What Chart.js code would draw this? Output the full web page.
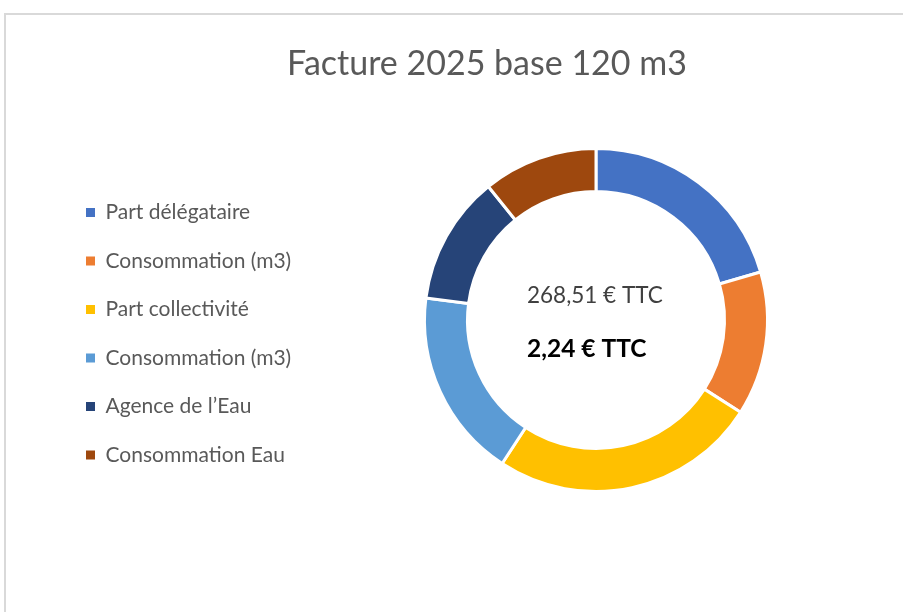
<!DOCTYPE html>
<html>
<head>
<meta charset="utf-8">
<script src="https://cdn.jsdelivr.net/npm/chart.js@4.4.1/dist/chart.umd.min.js"></script>
<style>
  html, body { margin: 0; padding: 0; width: 903px; height: 612px; overflow: hidden; background: #ffffff; }
  #frame { position: absolute; left: 4px; top: 13px; width: 2000px; height: 2000px;
           border-top: 2px solid #d9d9d9; border-left: 2px solid #d9d9d9; box-sizing: border-box; }
  #c { position: absolute; left: 0; top: 0; display: block; }
</style>
</head>
<body>
<div id="frame"></div>
<canvas id="c" width="920" height="612"></canvas>
<script>
const chartTitle = 'Facture 2025 base 120 m3';
const categories = ['Part délégataire', 'Consommation (m3)', 'Part collectivité', 'Consommation (m3)', 'Agence de l’Eau', 'Consommation Eau'];
const amounts = [55.0, 36.4, 67.6, 47.9, 32.6, 29.0];
const sliceColors = ['#4472C4', '#ED7D31', '#FFC000', '#5B9BD5', '#264478', '#9E480E'];
const totalText = '268,51 € TTC';
const perM3Text = '2,24 € TTC';

const FONT = 'Lato, "Open Sans", sans-serif';
const LEGEND_SIZE = 21;
const LEGEND_PAD = 27.5;
const LEGEND_BOX = 9;

// right-side spacer so that the title stays centred over the whole frame
const mctx = document.createElement('canvas').getContext('2d');
mctx.font = LEGEND_SIZE + 'px ' + FONT;
const longest = Math.max(...categories.map(t => mctx.measureText(t).width));
const legendWidth = LEGEND_PAD + LEGEND_BOX + LEGEND_SIZE / 2 + longest + 10;
const spacerWidth = Math.max(legendWidth - 218, 1);

const defaultLabels = Chart.overrides.doughnut.plugins.legend.labels.generateLabels;

const centerText = {
  id: 'centerText',
  afterDraw(chart) {
    const arc = chart.getDatasetMeta(0).data[0];
    if (!arc) return;
    const ctx = chart.ctx;
    const cx = arc.x, cy = arc.y;
    ctx.save();
    ctx.textAlign = 'left';
    ctx.textBaseline = 'alphabetic';
    ctx.fillStyle = '#404040';
    ctx.font = '22.5px ' + FONT;
    ctx.fillText(totalText, cx - 69, cy - 17.5);
    ctx.fillStyle = '#000000';
    ctx.font = 'bold 24.5px ' + FONT;
    ctx.fillText(perM3Text, cx - 69, cy + 37);
    ctx.restore();
  }
};

new Chart(document.getElementById('c'), {
  type: 'doughnut',
  data: {
    labels: categories,
    datasets: [{
      data: amounts,
      backgroundColor: sliceColors,
      borderColor: '#ffffff',
      borderWidth: 3,
      hoverOffset: 0
    }]
  },
  options: {
    responsive: false,
    animation: false,
    radius: 171.5,
    cutout: '74.93%',
    layout: { padding: { left: 58.5, right: 4.5, top: 0, bottom: 53.5 } },
    plugins: {
      tooltip: { enabled: false },
      title: {
        display: true,
        text: chartTitle,
        color: '#595959',
        font: { family: FONT, size: 34, weight: 'normal', lineHeight: 1 },
        padding: { top: 47.5, bottom: 0 }
      },
      subtitle: {
        display: true,
        position: 'right',
        text: '',
        font: { size: 1, lineHeight: 1 },
        padding: { top: spacerWidth - 1, bottom: 0 }
      },
      legend: {
        display: true,
        position: 'left',
        align: 'center',
        maxWidth: 500,
        title: { display: true, text: '', font: { size: 10, lineHeight: 1 }, padding: { top: 99, bottom: 0 } },
        labels: {
          boxWidth: LEGEND_BOX,
          boxHeight: LEGEND_BOX,
          padding: LEGEND_PAD,
          color: '#595959',
          font: { family: FONT, size: LEGEND_SIZE },
          generateLabels(chart) {
            return defaultLabels(chart).map(item => Object.assign(item, { lineWidth: 0, strokeStyle: 'rgba(0,0,0,0)' }));
          }
        }
      }
    }
  },
  plugins: [centerText]
});
</script>
</body>
</html>
